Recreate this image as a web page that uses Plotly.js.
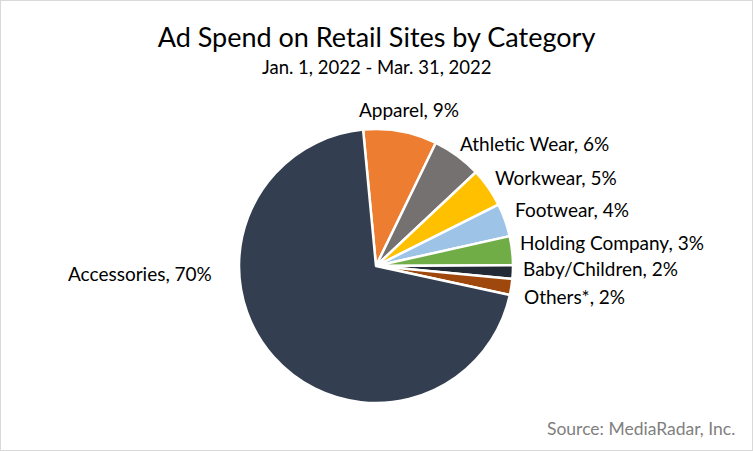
<!DOCTYPE html>
<html>
<head>
<meta charset="utf-8">
<script src="https://cdn.plot.ly/plotly-3.0.1.min.js"></script>
<style>
  html, body { margin: 0; padding: 0; background: #fff; }
  #wrap { position: relative; width: 753px; height: 451px; }
  #chart { width: 753px; height: 451px; }
  #frame { position: absolute; left: 0; top: 0; width: 753px; height: 451px; box-sizing: border-box; border: 1px solid #d9d9d9; pointer-events: none; }
</style>
</head>
<body>
<div id="wrap"><div id="chart"></div><div id="frame"></div></div>
<script>
const categories = ["Apparel", "Athletic Wear", "Workwear", "Footwear", "Holding Company", "Baby/Children", "Others*", "Accessories"];
const shares = [8.7, 5.8, 4.6, 3.9, 3.4, 1.6, 1.9, 70.1];
const pctLabels = ["9%", "6%", "5%", "4%", "3%", "2%", "2%", "70%"];
const colors = ["#ED7D31", "#767171", "#FFC000", "#9DC3E6", "#70AD47", "#222A35", "#9E480E", "#333F50"];

const FONT = "Lato, 'Noto Sans', sans-serif";

// plot area in pixels (layout only)
const L = 239, T = 129, S = 274;
const px = x => (x - L) / S;
const py = y => 1 - (y - T) / S;

// label anchor positions in pixels (layout only): [x, y, xanchor]
const labelPos = [
  [357, 109, "left"],
  [458, 143, "left"],
  [493, 177, "left"],
  [513, 209, "left"],
  [518, 242, "left"],
  [521, 268, "left"],
  [522, 296, "left"],
  [214, 273, "right"]
];

const trace = {
  type: "pie",
  labels: categories,
  values: shares,
  sort: false,
  direction: "clockwise",
  rotation: -5.4,
  marker: { colors: colors, line: { color: "#ffffff", width: 2.5 } },
  textinfo: "none",
  hoverinfo: "label+percent",
  showlegend: false
};

const labelAnnotations = categories.map((c, i) => ({
  text: c + ", " + pctLabels[i],
  xref: "paper", yref: "paper",
  x: px(labelPos[i][0]), y: py(labelPos[i][1]),
  xanchor: labelPos[i][2], yanchor: "middle",
  showarrow: false,
  font: { family: FONT, size: 19, color: "#000000" }
}));

const layout = {
  width: 753,
  height: 451,
  margin: { l: L, r: 753 - L - S, t: T, b: 451 - T - S },
  paper_bgcolor: "#ffffff",
  plot_bgcolor: "#ffffff",
  font: { family: FONT, color: "#000000" },
  title: {
    text: "Ad Spend on Retail Sites by Category",
    font: { family: FONT, size: 27, color: "#000000" },
    x: 0.5, xref: "container", xanchor: "center",
    y: 1 - 38 / 451, yref: "container", yanchor: "middle"
  },
  annotations: [
    {
      text: "Jan. 1, 2022 - Mar. 31, 2022",
      xref: "paper", yref: "paper",
      x: px(377), y: py(67),
      xanchor: "center", yanchor: "middle",
      showarrow: false,
      font: { family: FONT, size: 18.5, color: "#000000" }
    },
    {
      text: "Source: MediaRadar, Inc.",
      xref: "paper", yref: "paper",
      x: px(737), y: py(428),
      xanchor: "right", yanchor: "middle",
      showarrow: false,
      font: { family: FONT, size: 17.5, color: "#808080" }
    }
  ].concat(labelAnnotations)
};

Plotly.newPlot("chart", [trace], layout, { displayModeBar: false, staticPlot: true });
</script>
</body>
</html>
